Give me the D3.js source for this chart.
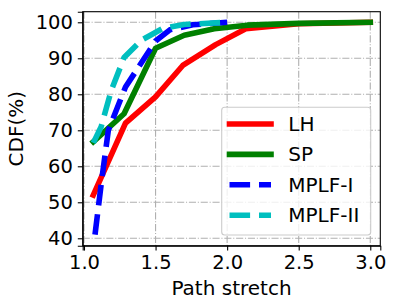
<!DOCTYPE html>
<html lang="en">
<head>
    <meta charset="utf-8">
    <title>Path stretch CDF</title>
    <script type="text/javascript" src="https://d3js.org/d3.v7.min.js"></script>
    <style type="text/css">
        body{
            margin: 0px;
            background: #fff;
        }
        svg text{
            font-family: "DejaVu Sans", sans-serif;
            fill: #000;
        }
        .axis path,
        .axis line{
            stroke: #000;
            stroke-width: 1.1px;
        }
        .axis text{
            font-size: 19.5px;
        }
        .grid line{
            stroke: #b0b0b0;
            stroke-width: 1.1px;
            stroke-dasharray: 7.1,1.8,1.1,1.8;
        }
    </style>
</head>
<body>
<div id="viz"></div>
<script type="text/javascript">
    // series
    var seriesNames = ["LH", "SP", "MPLF-I", "MPLF-II"];
    var colors = ["#ff0000", "#008000", "#0000ff", "#00bfbf"];

    var lhX = [1.065, 1.29, 1.5, 1.69, 1.92, 2.13, 2.5, 3.0];
    var lhY = [52, 72, 79.3, 88, 93.8, 98.2, 99.6, 100];

    var spX = [1.065, 1.28, 1.5, 1.7, 1.91, 2.14, 2.5, 3.0];
    var spY = [66.8, 74.6, 92.8, 96.4, 98.2, 99.2, 99.7, 100];

    var mplf1X = [1.077, 1.12, 1.17, 1.29, 1.5, 1.6, 1.76, 2.0];
    var mplf1Y = [41, 55, 70, 82, 94.8, 97.9, 99.3, 100];

    var mplf2X = [1.065, 1.12, 1.19, 1.28, 1.4, 1.55, 1.7, 2.0];
    var mplf2Y = [66.5, 71, 81, 90.2, 95, 98.3, 99.4, 100];

    var xTicks = [1.0, 1.5, 2.0, 2.5, 3.0];
    var yTicks = [40, 50, 60, 70, 80, 90, 100];

    var allX = [lhX, spX, mplf1X, mplf2X];
    var allY = [lhY, spY, mplf1Y, mplf2Y];

    var width = 400, height = 300;
    var plotLeft = 82.7, plotRight = 380.3, plotTop = 11.7, plotBottom = 245.7;

    var x = d3.scaleLinear().domain([0.991, 3.07]).range([plotLeft, plotRight]);
    var y = d3.scaleLinear().domain([37.94, 102.94]).range([plotBottom, plotTop]);

    var svg = d3.select("#viz").append("svg")
        .attr("width", width)
        .attr("height", height);

    // grid
    var grid = svg.append("g").attr("class", "grid");
    grid.selectAll(".gx").data(xTicks).enter().append("line")
        .attr("x1", function(d) { return x(d); })
        .attr("x2", function(d) { return x(d); })
        .attr("y1", plotTop).attr("y2", plotBottom);
    grid.selectAll(".gy").data(yTicks).enter().append("line")
        .attr("x1", plotLeft).attr("x2", plotRight)
        .attr("y1", function(d) { return y(d); })
        .attr("y2", function(d) { return y(d); });

    // lines
    var line = d3.line()
        .x(function(d) { return x(d[0]); })
        .y(function(d) { return y(d[1]); });

    seriesNames.forEach(function(name, i) {
        var pts = allX[i].map(function(v, j) { return [v, allY[i][j]]; });
        var dashed = i >= 2;
        svg.append("path")
            .datum(pts)
            .attr("d", line)
            .attr("fill", "none")
            .attr("stroke", colors[i])
            .attr("stroke-width", 5.6)
            .attr("stroke-linejoin", "round")
            .attr("stroke-linecap", dashed ? "butt" : "square")
            .attr("stroke-dasharray", dashed ? "20.6,8.9" : null);
    });

    // axes
    svg.append("g")
        .attr("class", "axis")
        .attr("transform", "translate(0," + plotBottom + ")")
        .call(d3.axisBottom(x).tickValues(xTicks).tickFormat(d3.format(".1f"))
            .tickSizeOuter(0).tickSize(4.9).tickPadding(4.9));
    svg.append("g")
        .attr("class", "axis")
        .attr("transform", "translate(" + plotLeft + ",0)")
        .call(d3.axisLeft(y).tickValues(yTicks).tickFormat(d3.format("d"))
            .tickSizeOuter(0).tickSize(4.9).tickPadding(4.9));

    // frame
    svg.append("rect")
        .attr("x", plotLeft).attr("y", plotTop)
        .attr("width", plotRight - plotLeft).attr("height", plotBottom - plotTop)
        .attr("fill", "none").attr("stroke", "#000").attr("stroke-width", 1.1);

    // labels
    svg.append("text")
        .attr("x", (plotLeft + plotRight) / 2).attr("y", 295)
        .attr("text-anchor", "middle")
        .style("font-size", "20px")
        .text("Path stretch");
    svg.append("text")
        .attr("transform", "translate(23," + ((plotTop + plotBottom) / 2) + ") rotate(-90)")
        .attr("text-anchor", "middle")
        .style("font-size", "20px")
        .text("CDF(%)");

    // legend
    var legend = svg.append("g");
    legend.append("rect")
        .attr("x", 221.7).attr("y", 107.3)
        .attr("width", 149).attr("height", 127.7)
        .attr("rx", 3)
        .attr("fill", "#fff").attr("fill-opacity", 0.8)
        .attr("stroke", "#cccccc").attr("stroke-width", 1.1);
    seriesNames.forEach(function(name, i) {
        var ly = 124 + i * 30.4;
        var dashed = i >= 2;
        legend.append("line")
            .attr("x1", 229.5).attr("x2", 271)
            .attr("y1", ly).attr("y2", ly)
            .attr("stroke", colors[i])
            .attr("stroke-width", 5.6)
            .attr("stroke-linecap", dashed ? "butt" : "square")
            .attr("stroke-dasharray", dashed ? "20.6,8.9" : null);
        legend.append("text")
            .attr("x", 288.3).attr("y", ly + 6.8)
            .style("font-size", "20px")
            .text(name);
    });
</script>
</body>
</html>
